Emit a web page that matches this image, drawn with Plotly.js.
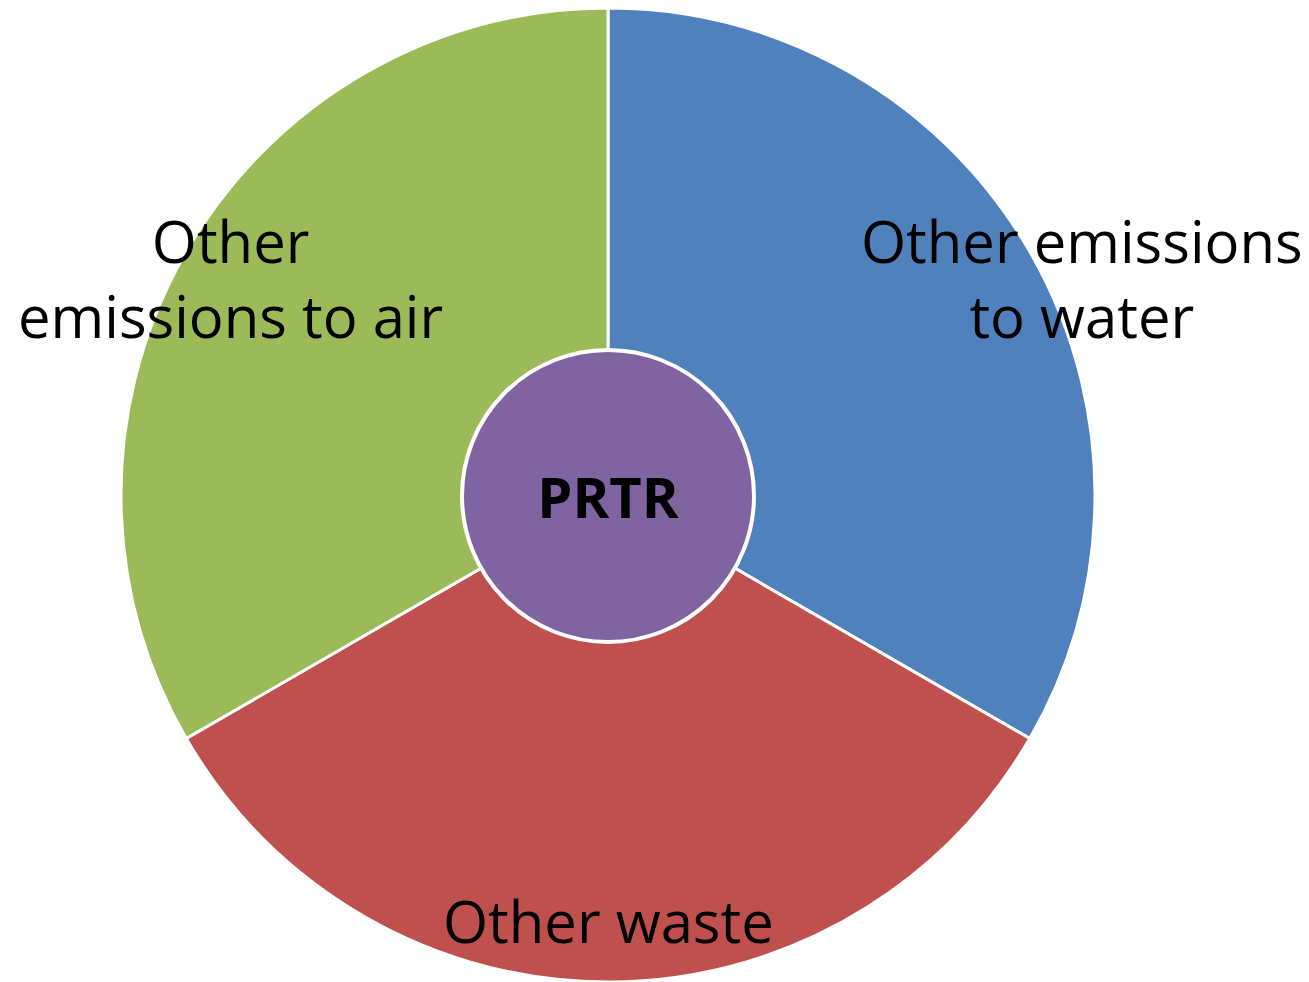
<!DOCTYPE html>
<html>
<head>
<meta charset="utf-8">
<script src="https://cdn.plot.ly/plotly-3.0.1.min.js"></script>
<style>html,body{margin:0;padding:0;background:#fff;}#chart{width:1309px;height:982px;}</style>
</head>
<body>
<div id="chart"></div>
<script>
// Data
var categories = ["Other emissions to water", "Other waste", "Other emissions to air"];
var labelLines = ["Other emissions<br>to water", "Other waste", "Other<br>emissions to air"];
var values = [1, 1, 1];
var colors = ["#4F81BD", "#C0504D", "#9BBB59"];
var centerLabel = ["PRTR"];
var centerValue = [1];
var centerColor = ["#8064A2"];

var W = 1309, H = 982;
var cx = 608, cy = 496, R = 488, r = 146;
function dom(rad) {
  return {
    x: [(cx - rad) / W, (cx + rad) / W],
    y: [Math.max(0, (H - cy - rad) / H), Math.min(1, (H - cy + rad) / H)]
  };
}

var outer = {
  type: "pie",
  labels: categories,
  values: values,
  sort: false,
  direction: "clockwise",
  rotation: 0,
  marker: { colors: colors, line: { color: "#ffffff", width: 3 } },
  textinfo: "none",
  hoverinfo: "label",
  showlegend: false,
  domain: dom(R)
};

var inner = {
  type: "pie",
  labels: centerLabel,
  values: centerValue,
  sort: false,
  marker: { colors: centerColor, line: { color: "#ffffff", width: 4 } },
  textinfo: "label",
  textposition: "inside",
  insidetextorientation: "horizontal",
  textfont: { family: "Open Sans, sans-serif", size: 56, color: "#000000", weight: "bold" },
  hoverinfo: "label",
  showlegend: false,
  domain: dom(r)
};

var labelPos = [[1082, 278], [608, 920], [230, 278]];
var annotations = labelLines.map(function (t, i) {
  return {
    text: t,
    xref: "paper", yref: "paper",
    x: labelPos[i][0] / W, y: (H - labelPos[i][1]) / H,
    xanchor: "center", yanchor: "middle",
    align: "center",
    showarrow: false,
    font: { family: "Open Sans, sans-serif", size: 58, color: "#000000" }
  };
});

var layout = {
  width: W, height: H,
  margin: { l: 0, r: 0, t: 0, b: 0 },
  paper_bgcolor: "#ffffff",
  annotations: annotations,
  showlegend: false
};

Plotly.newPlot("chart", [outer, inner], layout, { displayModeBar: false, staticPlot: true });
</script>
</body>
</html>
